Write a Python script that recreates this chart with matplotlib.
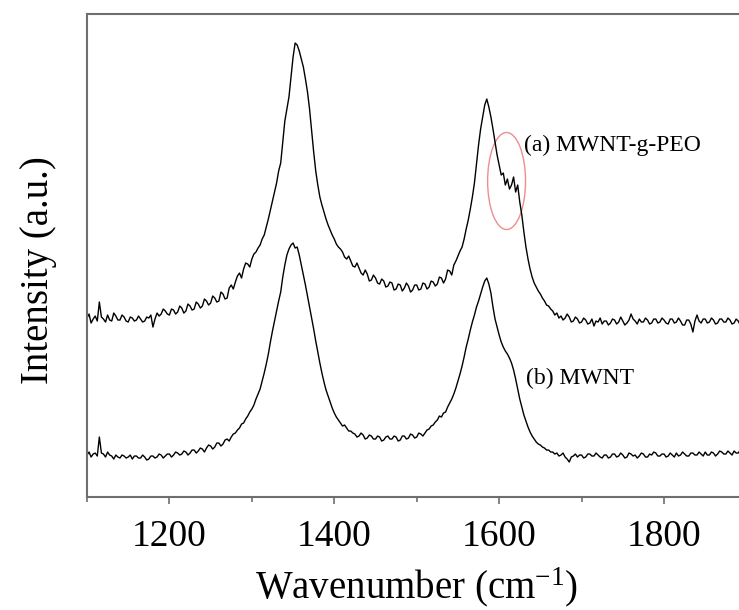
import matplotlib
matplotlib.use('Agg')
import matplotlib.pyplot as plt
from matplotlib.patches import Ellipse
import numpy as np

plt.rcParams['font.family'] = ['Liberation Serif', 'DejaVu Serif']
plt.rcParams['mathtext.default'] = 'regular'

# Raman shift grid, 2.5 cm-1 steps
wavenumber = np.arange(1100, 1901, 2.5)

# (a) MWNT-g-PEO, arbitrary intensity units (offset above b)
peo = [
    179, 183, 174, 178, 181, 176, 195, 180, 178, 175, 182, 177, 176, 184, 181, 177, 177, 182, 180, 176,  # 1100
    175, 180, 179, 176, 177, 181, 178, 175, 176, 180, 179, 182, 170, 178, 184, 181, 183, 188, 186, 183,  # 1150
    182, 188, 187, 183, 185, 191, 189, 184, 186, 193, 191, 187, 188, 195, 193, 189, 191, 198, 196, 192,  # 1200
    194, 201, 199, 195, 196, 205, 203, 198, 199, 209, 212, 208, 215, 221, 224, 219, 228, 234, 233, 230,  # 1250
    238, 243, 245, 249, 252, 258, 262, 270, 278, 287, 296, 305, 314, 326, 334, 355, 376, 388, 400, 420,  # 1300
    440, 454, 452, 446, 438, 430, 418, 405, 388, 366, 345, 326, 312, 300, 292, 285, 278, 272, 267, 262,  # 1350
    258, 253, 250, 248, 245, 240, 238, 241, 236, 231, 230, 234, 229, 224, 222, 227, 223, 216, 217, 222,  # 1400
    219, 214, 213, 218, 216, 210, 211, 215, 214, 207, 208, 213, 212, 206, 209, 214, 211, 205, 207, 212,  # 1450
    212, 207, 208, 214, 213, 208, 210, 216, 215, 211, 213, 220, 219, 214, 218, 227, 226, 222, 232, 236,  # 1500
    241, 246, 250, 258, 268, 277, 288, 300, 314, 333, 352, 368, 380, 392, 398, 390, 380, 368, 355, 342,  # 1550
    332, 322, 324, 312, 318, 308, 312, 320, 305, 312, 295, 282, 265, 250, 238, 228, 220, 214, 210, 206,  # 1600
    203, 199, 196, 192, 191, 188, 186, 182, 184, 179, 181, 177, 179, 183, 180, 175, 176, 180, 178, 174,  # 1650
    175, 179, 177, 173, 174, 178, 171, 176, 175, 179, 173, 176, 176, 172, 174, 178, 177, 173, 175, 180,  # 1700
    176, 172, 174, 177, 183, 178, 176, 173, 178, 175, 175, 179, 177, 173, 174, 178, 178, 174, 175, 179,  # 1750
    177, 174, 173, 178, 178, 174, 175, 179, 176, 172, 172, 177, 177, 173, 165, 176, 182, 176, 174, 178,  # 1800
    178, 174, 175, 179, 177, 173, 174, 178, 178, 175, 175, 179, 177, 173, 174, 178, 176, 172, 175, 178,  # 1850
    177,
]

# (b) pristine MWNT
mwnt = [
    42, 45, 40, 43, 44, 41, 60, 44, 43, 40, 45, 42, 41, 38, 42, 40, 39, 42, 41, 39,            # 1100
    40, 42, 38, 41, 41, 39, 39, 42, 40, 37, 38, 41, 41, 39, 40, 43, 42, 39, 41, 43,            # 1150
    43, 40, 42, 45, 44, 42, 43, 46, 45, 42, 44, 47, 47, 44, 46, 49, 48, 45, 49, 52,            # 1200
    51, 48, 50, 54, 54, 51, 53, 57, 58, 56, 60, 63, 64, 67, 69, 73, 74, 78, 81, 85,            # 1250
    88, 92, 98, 103, 108, 116, 124, 133, 143, 155, 166, 176, 186, 196, 205, 220, 232, 242, 248, 252,  # 1300
    254, 249, 250, 242, 232, 222, 212, 201, 190, 179, 168, 156, 145, 134, 124, 115, 107, 101, 95, 89,  # 1350
    84, 80, 77, 74, 71, 72, 69, 66, 66, 64, 63, 60, 61, 64, 62, 58, 59, 62, 61, 58,            # 1400
    58, 61, 60, 56, 57, 60, 61, 58, 58, 61, 60, 56, 57, 61, 61, 58, 59, 63, 62, 59,            # 1450
    60, 64, 63, 61, 64, 67, 68, 71, 72, 75, 77, 81, 80, 84, 85, 90, 94, 98, 103, 109,          # 1500
    116, 123, 131, 140, 150, 158, 167, 175, 182, 190, 196, 203, 210, 216, 219, 213, 204, 190, 178, 170,  # 1550
    162, 155, 150, 146, 143, 139, 134, 127, 118, 108, 98, 90, 82, 76, 70, 65, 61, 58, 55, 53,  # 1600
    52, 50, 49, 47, 47, 45, 45, 43, 44, 41, 42, 44, 40, 38, 35, 40, 41, 43, 40, 42,            # 1650
    42, 39, 40, 43, 43, 41, 41, 44, 42, 40, 39, 42, 42, 39, 40, 43, 43, 40, 41, 44,            # 1700
    42, 39, 40, 44, 43, 41, 42, 39, 41, 44, 43, 40, 40, 43, 42, 45, 44, 41, 41, 43,            # 1750
    43, 40, 41, 44, 42, 40, 44, 41, 42, 45, 43, 41, 41, 44, 44, 42, 42, 45, 43, 41,            # 1800
    45, 42, 42, 45, 44, 41, 43, 46, 45, 43, 43, 46, 44, 42, 46, 44, 44, 47, 45, 43,            # 1850
    45,
]

fig = plt.figure(figsize=(7.39, 6.10), dpi=100)
ax = fig.add_axes([0.1177, 0.1852, 0.8924, 0.7918])

ax.plot(wavenumber, peo, color='k', lw=1.0)
ax.plot(wavenumber, mwnt, color='k', lw=1.0)

# highlight the shoulder near 1610 cm-1
ax.add_patch(Ellipse((1609, 316), 46, 97, fill=False,
                     edgecolor='#f08c8c', lw=1.0))

ax.text(1630, 352, '(a) MWNT-g-PEO', fontsize=17, va='center', ha='left')
ax.text(1633, 119, '(b) MWNT', fontsize=17, va='center', ha='left')

ax.set_xlim(1100, 1900)
ax.set_ylim(0, 483)
ax.set_xticks([1200, 1400, 1600, 1800])
ax.set_xticks([1100, 1300, 1500, 1700, 1900], minor=True)
ax.set_yticks([])

spine_col = '#6e6e6e'
for s in ax.spines.values():
    s.set_color(spine_col)
    s.set_linewidth(1.5)

ax.tick_params(axis='x', which='major', direction='out', length=5,
               width=1.2, color=spine_col, labelsize=27, pad=11)
ax.tick_params(axis='x', which='minor', direction='out', length=3.5,
               width=1.2, color=spine_col)

ax.set_xlabel(r'Wavenumber (cm$^{\mathregular{-1}}$)', fontsize=28, labelpad=8)
ax.set_ylabel('Intensity (a.u.)', fontsize=28)
ax.yaxis.set_label_coords(-0.045, 0.47)

fig.savefig('out.png', dpi=100)
